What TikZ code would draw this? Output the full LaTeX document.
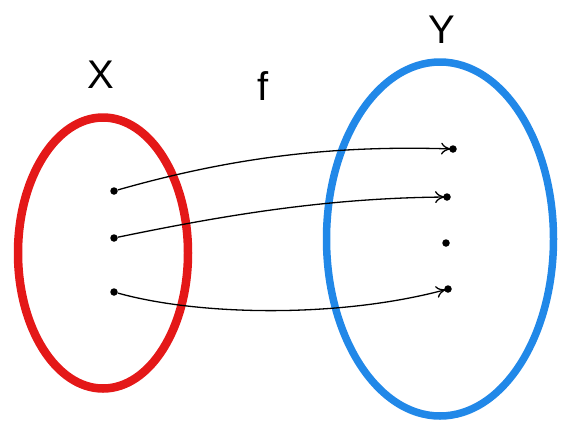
\documentclass[tikz,border=0pt]{standalone}
\usepackage{fontspec}
\setmainfont{Liberation Sans}
\usetikzlibrary{positioning, shapes.geometric, arrows.meta}
\definecolor{setRed}{RGB}{228, 24, 24}
\definecolor{setBlue}{RGB}{33, 136, 232}

\begin{document}
\begin{tikzpicture}[
    x=1pt, y=-1pt,
    setbox/.style={ellipse, draw, line width=7.5pt, inner sep=0pt},
    elem/.style={circle, fill=black, inner sep=0pt, minimum size=7.5pt},
    setname/.style={font=\fontsize{40}{46}\selectfont, inner sep=0pt},
    mapto/.style={-{To[length=10pt, width=12pt]}, line width=1.3pt, shorten >=-2pt},
  ]
    \useasboundingbox (0,0) rectangle (562,429);

    % the two sets
    \node[setbox, draw=setRed, line width=8.5pt, minimum width=170pt, minimum height=271pt] (X) at (103,253) {};
    \node[setbox, draw=setBlue, minimum width=227pt, minimum height=354pt] (Y) at (440,239) {};

    \node[setname] (Xname) at (101,75) {X};
    \node[setname] (fname) at (263,86) {f};
    \node[setname] (Yname) at (442,30) {Y};

    % elements
    \node[elem] (x1) at (114,191) {};
    \node[elem] (x2) at (114,238) {};
    \node[elem] (x3) at (114,292) {};
    \node[elem] (y1) at (453,149) {};
    \node[elem] (y2) at (447,197) {};
    \node[elem] (y3) at (446,243) {};
    \node[elem] (y4) at (448,289) {};

    % the map
    \draw[mapto] (x1) .. controls (230,158) and (330,145) .. (y1);
    \draw[mapto] (x2) .. controls (230,214) and (330,198) .. (y2);
    \draw[mapto] (x3) .. controls (200,316) and (340,318) .. (y4);
\end{tikzpicture}
\end{document}
